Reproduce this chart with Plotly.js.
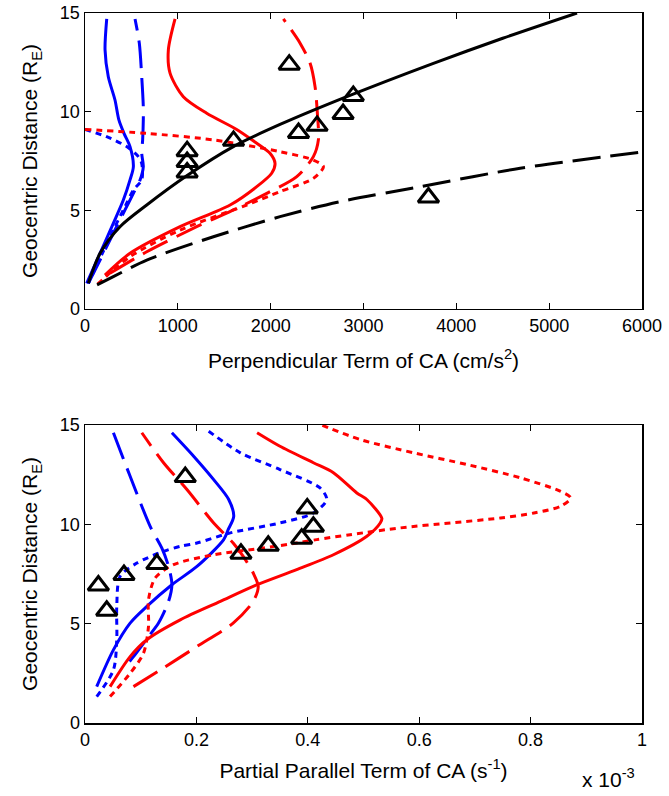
<!DOCTYPE html>
<html>
<head>
<meta charset="utf-8">
<script src="https://cdn.plot.ly/plotly-3.0.1.min.js"></script>
<style>html,body{margin:0;padding:0;background:#fff;}#chart{width:669px;height:796px;}</style>
</head>
<body>
<div id="chart"></div>
<script>
// ---------- Top panel: Perpendicular Term of CA (cm/s^2) vs Geocentric Distance (R_E)
const topBlueSolidX  = [18, 162, 305, 413, 485, 521, 485, 420, 365, 323, 251, 216, 234];
const topBlueSolidY  = [1.3, 2.82, 4.34, 5.52, 6.54, 7.21, 8.23, 8.9, 9.58, 10.59, 11.77, 13.13, 14.7];
const topBlueDashX   = [36, 162, 305, 431, 521, 593, 628, 611, 621, 628, 628, 611, 585, 539];
const topBlueDashY   = [1.3, 2.48, 3.84, 5.02, 5.86, 6.54, 7.21, 7.89, 8.57, 9.58, 10.25, 11.77, 13.47, 14.7];
const topBlueDotX    = [0, 234, 449, 575, 611, 611, 521, 449, 305, 36];
const topBlueDotY    = [9.1, 8.73, 8.23, 7.72, 7.38, 6.54, 6.03, 5.36, 4.0, 1.3];
const topRedSolidX   = [215, 485, 1024, 1563, 1850, 2011, 2047, 1993, 1850, 1634, 1311, 1059, 916, 898, 970];
const topRedSolidY   = [1.72, 2.82, 4.17, 5.27, 6.2, 6.88, 7.38, 7.89, 8.4, 9.1, 9.92, 10.76, 11.95, 13.13, 14.7];
const topRedDashX    = [269, 665, 1203, 1634, 1958, 2281, 2460, 2514, 2503, 2478, 2425, 2317, 2137];
const topRedDashY    = [1.81, 2.9, 4.17, 5.1, 5.86, 6.71, 7.72, 8.57, 9.92, 11.27, 12.45, 13.47, 14.7];
const topRedDotX     = [0, 665, 1383, 2101, 2460, 2568, 2460, 2101, 1742, 1024, 485, 126];
const topRedDotY     = [9.1, 8.9, 8.57, 7.97, 7.55, 7.21, 6.62, 5.95, 5.27, 4.0, 2.65, 1.22];
const topBlackSolidX = [36, 162, 377, 665, 1096, 1598, 2101, 2820, 3753, 4500, 5300];
const topBlackSolidY = [1.3, 2.82, 4.17, 5.27, 6.75, 8.23, 9.35, 10.76, 12.45, 13.72, 15.0];
const topBlackDashX  = [130, 305, 665, 1383, 2101, 2748, 3610, 4688, 6000];
const topBlackDashY  = [1.22, 1.64, 2.48, 3.66, 4.68, 5.44, 6.2, 7.13, 7.95];

// observed events (triangles), same distances in both panels
const obsDistance    = [12.38, 10.8, 9.88, 9.28, 8.92, 8.52, 8.0, 7.45, 6.92, 5.65];
const obsPerp        = [2200, 2890, 2780, 2500, 2300, 1600, 1100, 1100, 1100, 3700];
const obsPar         = [0.18, 0.399, 0.41, 0.389, 0.329, 0.28, 0.129, 0.07, 0.024, 0.039]; // x 10^-3 s^-1

// ---------- Bottom panel: Partial Parallel Term of CA (x 10^-3 s^-1)
const botBlueSolidX  = [0.021, 0.051, 0.081, 0.111, 0.156, 0.201, 0.249, 0.257, 0.267, 0.258, 0.231, 0.195, 0.156];
const botBlueSolidY  = [1.83, 3.68, 5.03, 5.87, 6.96, 7.88, 9.23, 9.73, 10.4, 11.25, 12.25, 13.43, 14.61];
const botBlueDashX   = [0.051, 0.081, 0.117, 0.138, 0.150, 0.156, 0.150, 0.132, 0.114, 0.087, 0.080];
const botBlueDashY   = [14.61, 12.42, 9.9, 8.8, 7.88, 6.96, 6.12, 5.03, 4.35, 3.34, 3.1];
const botBlueDotX    = [0.021, 0.051, 0.057, 0.057, 0.063, 0.093, 0.141, 0.171, 0.201, 0.261, 0.350, 0.410, 0.434, 0.422, 0.350, 0.279, 0.219];
const botBlueDotY    = [1.33, 2.67, 4.19, 5.87, 7.38, 8.05, 8.64, 8.89, 9.06, 9.57, 10.07, 10.57, 11.25, 11.83, 12.76, 13.6, 14.75];
const botRedSolidX   = [0.045, 0.081, 0.111, 0.171, 0.243, 0.309, 0.380, 0.446, 0.506, 0.530, 0.533, 0.506, 0.488, 0.446, 0.410, 0.350, 0.309];
const botRedSolidY   = [1.83, 3.34, 4.19, 5.19, 6.12, 6.96, 7.72, 8.47, 9.4, 10.07, 10.3, 11.25, 11.58, 12.6, 13.1, 13.93, 14.61];
const botRedDashX    = [0.087, 0.135, 0.201, 0.266, 0.302, 0.311, 0.302, 0.284, 0.266, 0.231, 0.183, 0.141, 0.102];
const botRedDashY    = [1.83, 2.67, 3.85, 5.03, 6.12, 6.87, 7.55, 8.39, 9.06, 10.07, 11.75, 13.1, 14.61];
const botRedDotX     = [0.045, 0.081, 0.105, 0.114, 0.114, 0.126, 0.159, 0.231, 0.320, 0.380, 0.416, 0.476, 0.566, 0.656, 0.746, 0.806, 0.854, 0.872, 0.854, 0.782, 0.686, 0.590, 0.494, 0.422];
const botRedDotY     = [1.33, 2.5, 3.51, 4.86, 6.2, 7.3, 7.97, 8.47, 8.81, 9.06, 9.23, 9.48, 9.82, 10.07, 10.32, 10.57, 10.91, 11.33, 11.66, 12.34, 13.01, 13.6, 14.27, 15.03];

const yTicks   = [0, 5, 10, 15];
const topTicks = [0, 1000, 2000, 3000, 4000, 5000, 6000];
const botTicks = [0, 0.2, 0.4, 0.6, 0.8, 1];

const BLUE = '#0000ff', RED = '#ff0000', BLACK = '#000000';
const DASH = '28px,10px', DOT = '6px,5px';
const LW = 3;

function line(x, y, color, dash, xa, ya) {
  return {type: 'scatter', mode: 'lines', x: x, y: y, xaxis: xa, yaxis: ya,
          line: {color: color, width: LW, dash: dash, shape: 'spline', smoothing: 0.8},
          hoverinfo: 'skip', showlegend: false};
}
function tri(x, y, xa, ya) {
  return {type: 'scatter', mode: 'markers', x: x, y: y, xaxis: xa, yaxis: ya,
          marker: {symbol: 'triangle-up-open', size: 18, color: BLACK, line: {color: BLACK, width: 3}},
          cliponaxis: false, showlegend: false};
}

const traces = [
  line(topBlueSolidX, topBlueSolidY, BLUE, 'solid', 'x', 'y'),
  line(topBlueDashX, topBlueDashY, BLUE, DASH, 'x', 'y'),
  line(topBlueDotX, topBlueDotY, BLUE, DOT, 'x', 'y'),
  line(topRedSolidX, topRedSolidY, RED, 'solid', 'x', 'y'),
  line(topRedDashX, topRedDashY, RED, DASH, 'x', 'y'),
  line(topRedDotX, topRedDotY, RED, DOT, 'x', 'y'),
  line(topBlackSolidX, topBlackSolidY, BLACK, 'solid', 'x', 'y'),
  line(topBlackDashX, topBlackDashY, BLACK, DASH, 'x', 'y'),
  tri(obsPerp, obsDistance, 'x', 'y'),
  line(botBlueSolidX, botBlueSolidY, BLUE, 'solid', 'x2', 'y2'),
  line(botBlueDashX, botBlueDashY, BLUE, DASH, 'x2', 'y2'),
  line(botBlueDotX, botBlueDotY, BLUE, DOT, 'x2', 'y2'),
  line(botRedSolidX, botRedSolidY, RED, 'solid', 'x2', 'y2'),
  line(botRedDashX, botRedDashY, RED, DASH, 'x2', 'y2'),
  line(botRedDotX, botRedDotY, RED, DOT, 'x2', 'y2'),
  tri(obsPar, obsDistance, 'x2', 'y2')
];

const FONT = '"Liberation Sans", Arial, Helvetica, sans-serif';
const TICKF = {family: FONT, size: 18, color: BLACK};
const TITLEF = {family: FONT, size: 21, color: BLACK};

function ax(extra) {
  return Object.assign({
    showline: true, linecolor: BLACK, linewidth: 1.5, mirror: 'ticks',
    ticks: 'inside', ticklen: 6, tickwidth: 1.2, tickcolor: BLACK,
    showgrid: false, zeroline: false, tickfont: TICKF, fixedrange: true
  }, extra);
}

const layout = {
  width: 669, height: 796,
  margin: {l: 85, r: 27, t: 13, b: 73},
  paper_bgcolor: '#fff', plot_bgcolor: '#fff',
  font: {family: FONT, color: BLACK},
  xaxis: ax({domain: [0, 1], anchor: 'y', range: [0, 6000], tickvals: topTicks,
             title: {text: 'Perpendicular Term of CA (cm/s<sup>2</sup>)', font: TITLEF, standoff: 18}}),
  yaxis: ax({domain: [0.5831, 1], anchor: 'x', range: [0, 15], tickvals: yTicks,
             title: {text: 'Geocentric Distance (R<sub>E</sub>)', font: TITLEF, standoff: 16}}),
  xaxis2: ax({domain: [0, 1], anchor: 'y2', range: [0, 1], tickvals: botTicks,
              ticktext: botTicks.map(String),
              title: {text: 'Partial Parallel Term of CA (s<sup>-1</sup>)', font: TITLEF, standoff: 14}}),
  yaxis2: ax({domain: [0, 0.4197], anchor: 'x2', range: [0, 15], tickvals: yTicks,
              title: {text: 'Geocentric Distance (R<sub>E</sub>)', font: TITLEF, standoff: 16}}),
  annotations: [{text: 'x 10<sup>-3</sup>', xref: 'paper', yref: 'paper', x: 0.94, y: -0.078,
                 xanchor: 'center', yanchor: 'middle', showarrow: false, font: {family: FONT, size: 21, color: BLACK}}]
};

Plotly.newPlot('chart', traces, layout, {displayModeBar: false, staticPlot: true});
</script>
</body>
</html>
